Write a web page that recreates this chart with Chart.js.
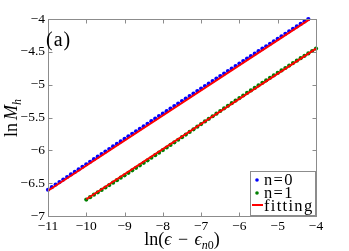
<!DOCTYPE html>
<html><head><meta charset="utf-8">
<script src="https://cdn.jsdelivr.net/npm/chart.js@4.4.1/dist/chart.umd.min.js"></script>
<style>html,body{margin:0;padding:0;background:#fff}#c{display:block}</style>
</head><body>
<canvas id="c" width="349" height="251"></canvas>
<script>
// n=0 data
const x0 = [-11,-10.9,-10.8,-10.7,-10.6,-10.5,-10.4,-10.3,-10.2,-10.1,-10,-9.9,-9.8,-9.7,-9.6,-9.5,-9.4,-9.3,-9.2,-9.1,-9,-8.9,-8.8,-8.7,-8.6,-8.5,-8.4,-8.3,-8.2,-8.1,-8,-7.9,-7.8,-7.7,-7.6,-7.5,-7.4,-7.3,-7.2,-7.1,-7,-6.9,-6.8,-6.7,-6.6,-6.5,-6.4,-6.3,-6.2,-6.1,-6,-5.9,-5.8,-5.7,-5.6,-5.5,-5.4,-5.3,-5.2,-5.1,-5,-4.9,-4.8,-4.7,-4.6,-4.5,-4.4,-4.3,-4.2];
const y0 = [-6.600,-6.561,-6.522,-6.484,-6.445,-6.406,-6.367,-6.329,-6.290,-6.251,
-6.212,-6.174,-6.135,-6.096,-6.057,-6.019,-5.980,-5.941,-5.903,-5.864,
-5.826,-5.787,-5.749,-5.710,-5.672,-5.633,-5.595,-5.556,-5.518,-5.479,
-5.441,-5.403,-5.364,-5.326,-5.288,-5.250,-5.211,-5.173,-5.135,-5.097,
-5.059,-5.021,-4.983,-4.945,-4.907,-4.869,-4.831,-4.793,-4.755,-4.717,
-4.679,-4.641,-4.603,-4.566,-4.528,-4.490,-4.452,-4.415,-4.377,-4.339,
-4.301,-4.264,-4.226,-4.188,-4.150,-4.113,-4.075,-4.037,-4.000];
// n=1 data
const x1 = [-10,-9.9,-9.8,-9.7,-9.6,-9.5,-9.4,-9.3,-9.2,-9.1,-9,-8.9,-8.8,-8.7,-8.6,-8.5,-8.4,-8.3,-8.2,-8.1,-8,-7.9,-7.8,-7.7,-7.6,-7.5,-7.4,-7.3,-7.2,-7.1,-7,-6.9,-6.8,-6.7,-6.6,-6.5,-6.4,-6.3,-6.2,-6.1,-6,-5.9,-5.8,-5.7,-5.6,-5.5,-5.4,-5.3,-5.2,-5.1,-5,-4.9,-4.8,-4.7,-4.6,-4.5,-4.4,-4.3,-4.2,-4.1,-4];
const y1 = [-6.750,-6.713,-6.676,-6.640,-6.603,-6.566,-6.529,-6.492,-6.455,-6.417,
-6.380,-6.342,-6.304,-6.266,-6.228,-6.190,-6.152,-6.113,-6.074,-6.035,
-5.996,-5.957,-5.918,-5.878,-5.839,-5.799,-5.760,-5.720,-5.680,-5.640,
-5.600,-5.560,-5.520,-5.481,-5.441,-5.401,-5.361,-5.322,-5.282,-5.243,
-5.204,-5.165,-5.126,-5.087,-5.049,-5.010,-4.972,-4.934,-4.896,-4.858,
-4.821,-4.783,-4.746,-4.709,-4.671,-4.634,-4.597,-4.561,-4.524,-4.487,
-4.450];
// fitting lines
const fit0X = [-11, -4.17];
const fit0Y = [-6.615, -4.005];
const fit1X = [-10, -4];
const fit1Y = [-6.745, -4.45];
const xTicks = [-11,-10,-9,-8,-7,-6,-5,-4];
const yTicks = [-7,-6.5,-6,-5.5,-5,-4.5,-4];
const legendLabels = ['n=0','n=1','fitting'];
const panelLabel = '(a)';

const FF = "'Liberation Serif','Times New Roman',serif";
const pts = (xs, ys) => xs.map((v,i)=>({x:v, y:ys[i]}));
const fmt = v => (v<0?'\u2212':'') + Math.abs(v);

const decor = {
  id:'decor',
  afterDraw(chart){
    const {ctx, chartArea:a, scales:{x,y}} = chart;
    ctx.save();
    const L=Math.round(a.left)+0.5, R=Math.round(a.right)+0.5, T=Math.round(a.top)+0.5, B=Math.round(a.bottom)+0.5;
    ctx.strokeStyle='#8c8c8c'; ctx.lineWidth=1;
    ctx.strokeRect(L,T,R-L,B-T);
    ctx.beginPath();
    xTicks.forEach(v=>{const p=Math.round(x.getPixelForValue(v))+0.5; ctx.moveTo(p,B); ctx.lineTo(p,B-4); ctx.moveTo(p,T); ctx.lineTo(p,T+4);});
    yTicks.forEach(v=>{const p=Math.round(y.getPixelForValue(v))+0.5; ctx.moveTo(L,p); ctx.lineTo(L+4,p); ctx.moveTo(R,p); ctx.lineTo(R-4,p);});
    ctx.stroke();

    // panel label
    ctx.fillStyle='#000';
    ctx.textBaseline='alphabetic';
    ctx.font='20px '+FF;
    ctx.letterSpacing='1px';
    ctx.textAlign='left';
    ctx.fillText(panelLabel, 46, 46);

    // legend
    ctx.letterSpacing='1.3px';
    ctx.fillStyle='#fff';
    ctx.fillRect(250.5,171.5,65,44);
    ctx.strokeStyle='#8c8c8c';
    ctx.strokeRect(250.5,171.5,65,44);
    ctx.font='16.5px '+FF;
    ctx.fillStyle='#000';
    const base=[185,198,211];
    legendLabels.forEach((t,i)=>ctx.fillText(t,264,base[i]));
    ctx.fillStyle='#0000ff';
    ctx.beginPath(); ctx.arc(257,180,1.8,0,Math.PI*2); ctx.fill();
    ctx.fillStyle='#008000';
    ctx.beginPath(); ctx.arc(257,193,1.8,0,Math.PI*2); ctx.fill();
    ctx.strokeStyle='#ff0000'; ctx.lineWidth=2;
    ctx.beginPath(); ctx.moveTo(252,205); ctx.lineTo(263,205); ctx.stroke();

    // x title: ln(ϵ − ϵ_{n0})
    ctx.letterSpacing='0px';
    ctx.fillStyle='#000';
    const big='18px '+FF, ital='italic 18px '+FF, sub='12px '+FF, subi='italic 12px '+FF;
    const parts=[['ln(',big,0],['\u03F5',ital,0],[' \u2212 ',big,0],['\u03F5',ital,0],['n',subi,4],['0',sub,4],[')',big,0]];
    let w=0; parts.forEach(p=>{ctx.font=p[1]; w+=ctx.measureText(p[0]).width+ (p[0]===' \u2212 '?4:0);});
    let cx=(a.left+a.right)/2 - w/2;
    parts.forEach(p=>{ctx.font=p[1]; let t=p[0]; if(t===' \u2212 ') cx+=2; ctx.fillText(t,cx,245+p[2]); cx+=ctx.measureText(t).width; if(t===' \u2212 ') cx+=2;});

    // y title: ln M_h
    ctx.save();
    ctx.translate(16.5,118);
    ctx.rotate(-Math.PI/2);
    const yp=[['ln',big,0,3],['M',ital,0,0],['h',subi,4,0]];
    let yw=0; yp.forEach(p=>{ctx.font=p[1]; yw+=ctx.measureText(p[0]).width+p[3];});
    let yx=-yw/2;
    yp.forEach(p=>{ctx.font=p[1]; ctx.fillText(p[0],yx,p[2]); yx+=ctx.measureText(p[0]).width+p[3];});
    ctx.restore();
    ctx.restore();
  }
};

new Chart(document.getElementById('c'), {
  type:'scatter',
  data:{datasets:[
    {label:'fitting', data:pts(fit0X,fit0Y), showLine:true, borderColor:'#ff0000', borderWidth:2, pointRadius:0, clip:4},
    {label:'fitting', data:pts(fit1X,fit1Y), showLine:true, borderColor:'#ff0000', borderWidth:2, pointRadius:0, clip:4},
    {label:'n=0', data:pts(x0,y0), pointRadius:2.1, pointBorderWidth:0, backgroundColor:'#0000ff', borderColor:'#0000ff', clip:4},
    {label:'n=1', data:pts(x1,y1), pointRadius:2.1, pointBorderWidth:0, backgroundColor:'#008000', borderColor:'#008000', clip:4}
  ]},
  options:{
    responsive:false, animation:false, devicePixelRatio:1,
    layout:{padding:{left:0,right:33,top:19,bottom:0}},
    plugins:{legend:{display:false}, tooltip:{enabled:false}},
    scales:{
      x:{type:'linear', min:-11, max:-4,
        afterBuildTicks:s=>{s.ticks=xTicks.map(v=>({value:v}));},
        afterFit:s=>{s.height=35;},
        grid:{display:false, drawTicks:false}, border:{display:false},
        ticks:{callback:fmt, color:'#000', font:{family:FF,size:13.5}, padding:2, maxRotation:0, autoSkip:false}},
      y:{type:'linear', min:-7, max:-4,
        afterBuildTicks:s=>{s.ticks=yTicks.map(v=>({value:v}));},
        afterFit:s=>{s.width=48;},
        grid:{display:false, drawTicks:false}, border:{display:false},
        ticks:{callback:fmt, color:'#000', font:{family:FF,size:13.5}, padding:3, autoSkip:false}}
    }
  },
  plugins:[decor]
});
</script>
</body></html>
